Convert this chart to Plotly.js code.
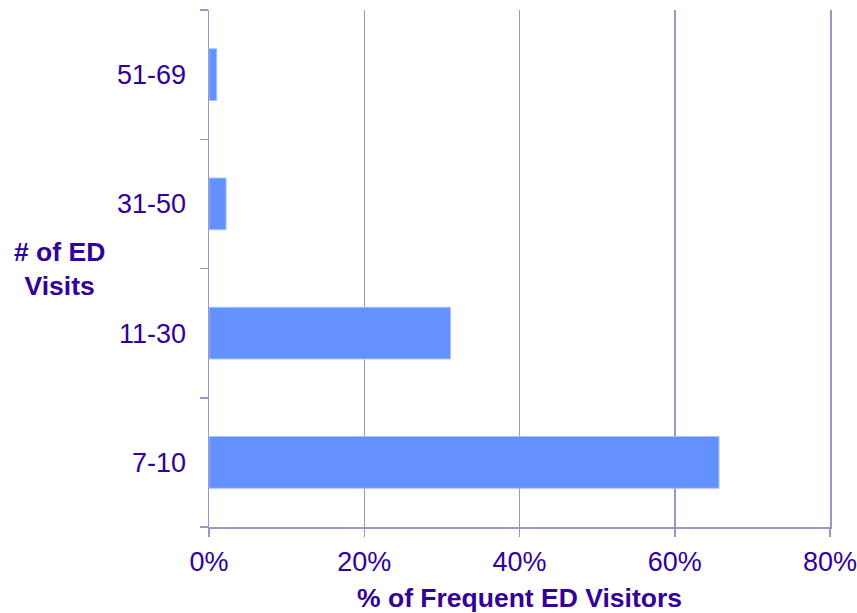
<!DOCTYPE html>
<html>
<head>
<meta charset="utf-8">
<script src="https://cdn.plot.ly/plotly-3.0.1.min.js"></script>
<style>
  html, body { margin: 0; padding: 0; background: #ffffff; }
  #chart { width: 857px; height: 613px; }
</style>
</head>
<body>
<div id="chart"></div>
<script>
// Share of frequent ED visitors by number of ED visits
const visitGroups = ["7-10", "11-30", "31-50", "51-69"];
const sharePct = [65.7, 31.1, 2.2, 1.0];
const xTicks = [0, 20, 40, 60, 80];

const ink = "#330099";
const rule = "#9b96c9";
const fontFamily = "Liberation Sans, Arial, sans-serif";

const trace = {
  type: "bar",
  orientation: "h",
  x: sharePct,
  y: visitGroups,
  marker: { color: "#6391ff", line: { color: "#aac3ff", width: 1 } },
  hoverinfo: "x+y"
};

const layout = {
  width: 857,
  height: 613,
  margin: { l: 209, r: 27, t: 10, b: 86 },
  paper_bgcolor: "#ffffff",
  plot_bgcolor: "#ffffff",
  showlegend: false,
  bargap: 0.6,
  font: { family: fontFamily, color: ink, size: 27 },
  xaxis: {
    range: [0, 80],
    tickvals: xTicks,
    ticktext: xTicks.map(v => v + "%"),
    showgrid: true,
    gridcolor: rule,
    gridwidth: 1.5,
    zeroline: false,
    showline: true,
    linecolor: rule,
    linewidth: 1.5,
    ticks: "outside",
    ticklen: 8,
    tickwidth: 1.5,
    tickcolor: rule,
    tickfont: { size: 27, color: ink },
    ticklabelstandoff: 2,
    ticklabeloverflow: "allow",
    title: {
      text: "<b>% of Frequent ED Visitors</b>",
      font: { size: 26.5, color: ink },
      standoff: 18
    },
    automargin: false,
    fixedrange: true
  },
  yaxis: {
    type: "category",
    categoryorder: "array",
    categoryarray: visitGroups,
    range: [-0.5, 3.5],
    showgrid: false,
    zeroline: false,
    showline: true,
    mirror: true,
    linecolor: rule,
    linewidth: 1.5,
    ticks: "outside",
    tickson: "boundaries",
    ticklen: 8,
    tickwidth: 1.5,
    tickcolor: rule,
    tickfont: { size: 27, color: ink },
    ticklabelstandoff: 16,
    automargin: false,
    fixedrange: true
  },
  annotations: [{
    text: "<b># of ED<br>Visits</b>",
    xref: "paper", yref: "paper",
    x: -0.2415, y: 0.5,
    xanchor: "center", yanchor: "middle",
    showarrow: false,
    align: "center",
    font: { size: 26.5, color: ink, family: fontFamily }
  }]
};

Plotly.newPlot("chart", [trace], layout, { displayModeBar: false, staticPlot: true });
</script>
</body>
</html>
